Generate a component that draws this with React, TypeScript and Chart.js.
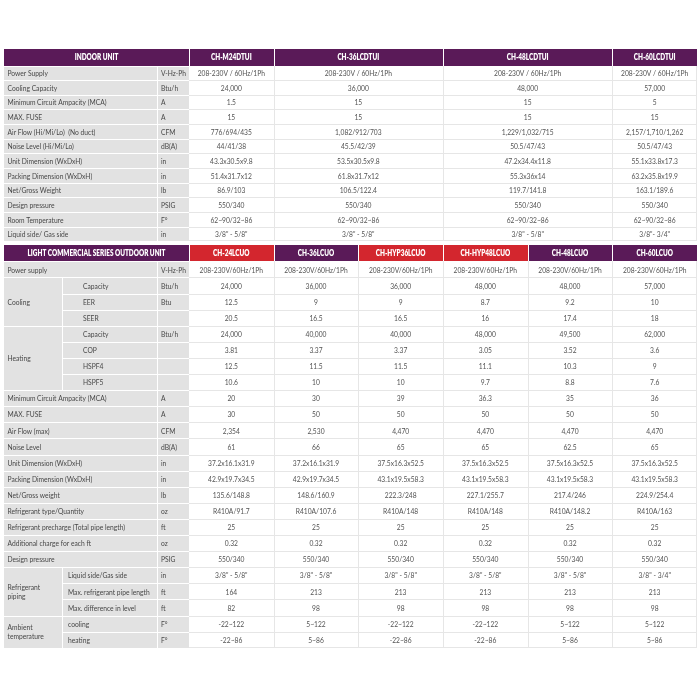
import React, { useEffect, useRef } from "react";
import { Chart, registerables } from "chart.js";
Chart.register(...registerables);

// ---------------- data ----------------
const indoorTitle = "INDOOR UNIT";
const indoorModels = ["CH-M24DTUI", "CH-36LCDTUI", "CH-48LCDTUI", "CH-60LCDTUI"];
const indoorLabels = [
  "Power Supply",
  "Cooling Capacity",
  "Minimum Circuit Ampacity (MCA)",
  "MAX. FUSE",
  "Air Flow (Hi/Mi/Lo)  (No duct)",
  "Noise Level (Hi/Mi/Lo)",
  "Unit Dimension (WxDxH)",
  "Packing Dimension (WxDxH)",
  "Net/Gross Weight",
  "Design pressure",
  "Room Temperature",
  "Liquid side/ Gas side",
];
const indoorUnits = ["V-Hz-Ph", "Btu/h", "A", "A", "CFM", "dB(A)", "in", "in", "lb", "PSIG", "F°", "in"];
const indoorM24 = ["208-230V / 60Hz/1Ph", "24,000", "1.5", "15", "776/694/435", "44/41/38", "43.3x30.5x9.8", "51.4x31.7x12", "86.9/103", "550/340", "62~90/32~86", "3/8\" - 5/8\""];
const indoor36 = ["208-230V / 60Hz/1Ph", "36,000", "15", "15", "1,082/912/703", "45.5/42/39", "53.5x30.5x9.8", "61.8x31.7x12", "106.5/122.4", "550/340", "62~90/32~86", "3/8\" - 5/8\""];
const indoor48 = ["208-230V / 60Hz/1Ph", "48,000", "15", "15", "1,229/1,032/715", "50.5/47/43", "47.2x34.4x11.8", "55.3x36x14", "119.7/141.8", "550/340", "62~90/32~86", "3/8\" - 5/8\""];
const indoor60 = ["208-230V / 60Hz/1Ph", "57,000", "5", "15", "2,157/1,710/1,262", "50.5/47/43", "55.1x33.8x17.3", "63.2x35.8x19.9", "163.1/189.6", "550/340", "62~90/32~86", "3/8\"- 3/4\""];

const outdoorTitle = "LIGHT COMMERCIAL SERIES OUTDOOR UNIT";
const outdoorModels = ["CH-24LCUO", "CH-36LCUO", "CH-HYP36LCUO", "CH-HYP48LCUO", "CH-48LCUO", "CH-60LCUO"];
const outdoorGroups = [
  "", "Cooling", "Cooling", "Cooling", "Heating", "Heating", "Heating", "Heating",
  "", "", "", "", "", "", "", "", "", "", "",
  "Refrigerant\npiping", "Refrigerant\npiping", "Refrigerant\npiping",
  "Ambient\ntemperature", "Ambient\ntemperature",
];
const outdoorLabels = [
  "Power supply", "Capacity", "EER", "SEER", "Capacity", "COP", "HSPF4", "HSPF5",
  "Minimum Circuit Ampacity (MCA)", "MAX. FUSE", "Air Flow (max)", "Noise Level",
  "Unit Dimension (WxDxH)", "Packing Dimension (WxDxH)", "Net/Gross weight",
  "Refrigerant type/Quantity", "Refrigerant precharge (Total pipe length)",
  "Additional charge for each ft", "Design pressure",
  "Liquid side/Gas side", "Max. refrigerant pipe length", "Max. difference in level",
  "cooling", "heating",
];
const outdoorUnits = [
  "V-Hz-Ph", "Btu/h", "Btu", "", "Btu/h", "", "", "",
  "A", "A", "CFM", "dB(A)", "in", "in", "lb", "oz", "ft", "oz", "PSIG",
  "in", "ft", "ft", "F°", "F°",
];
const outdoor24 = ["208-230V/60Hz/1Ph", "24,000", "12.5", "20.5", "24,000", "3.81", "12.5", "10.6", "20", "30", "2,354", "61", "37.2x16.1x31.9", "42.9x19.7x34.5", "135.6/148.8", "R410A/91.7", "25", "0.32", "550/340", "3/8\" - 5/8\"", "164", "82", "-22~122", "-22~86"];
const outdoor36 = ["208-230V/60Hz/1Ph", "36,000", "9", "16.5", "40,000", "3.37", "11.5", "10", "30", "50", "2,530", "66", "37.2x16.1x31.9", "42.9x19.7x34.5", "148.6/160.9", "R410A/107.6", "25", "0.32", "550/340", "3/8\" - 5/8\"", "213", "98", "5~122", "5~86"];
const outdoorHyp36 = ["208-230V/60Hz/1Ph", "36,000", "9", "16.5", "40,000", "3.37", "11.5", "10", "39", "50", "4,470", "65", "37.5x16.3x52.5", "43.1x19.5x58.3", "222.3/248", "R410A/148", "25", "0.32", "550/340", "3/8\" - 5/8\"", "213", "98", "-22~122", "-22~86"];
const outdoorHyp48 = ["208-230V/60Hz/1Ph", "48,000", "8.7", "16", "48,000", "3.05", "11.1", "9.7", "36.3", "50", "4,470", "65", "37.5x16.3x52.5", "43.1x19.5x58.3", "227.1/255.7", "R410A/148", "25", "0.32", "550/340", "3/8\" - 5/8\"", "213", "98", "-22~122", "-22~86"];
const outdoor48 = ["208-230V/60Hz/1Ph", "48,000", "9.2", "17.4", "49,500", "3.52", "10.3", "8.8", "35", "50", "4,470", "62.5", "37.5x16.3x52.5", "43.1x19.5x58.3", "217.4/246", "R410A/148.2", "25", "0.32", "550/340", "3/8\" - 5/8\"", "213", "98", "5~122", "5~86"];
const outdoor60 = ["208-230V/60Hz/1Ph", "57,000", "10", "18", "62,000", "3.6", "9", "7.6", "36", "50", "4,470", "65", "37.5x16.3x52.5", "43.1x19.5x58.3", "224.9/254.4", "R410A/163", "25", "0.32", "550/340", "3/8\" - 3/4\"", "213", "98", "5~122", "5~86"];

// ---------------- layout / style ----------------
const PURPLE = "#5a1a58";
const RED = "#d3262e";
const GRAY = "#e2e2e2";
const LINE = "#e6e6e6";
const LABEL_COLOR = "#474747";
const VALUE_COLOR = "#525252";
const FONT = "Lato, 'Open Sans', sans-serif";

const indoorSpans = [1, 2, 2, 1];
const outdoorHeaderColors = [RED, PURPLE, RED, RED, PURPLE, PURPLE];
const subLabelPad: Record<string, number> = { Cooling: 21, Heating: 21 };

// x in value-column units; value columns are [k, k+1]
const U_LEFT = -2.185;
const U_GROUP = -1.5;
const U_UNIT = -0.378;
const U_RIGHT = 6;
// y in table units
const V_TOP_HEAD = 16.5;
const V_TOP_ROW = 14.65;
const V_GAP = 3.5;
const V_BOT_HEAD = 16.5;
const V_BOT_ROW = 16.1;

const indoorValues = [indoorM24, indoor36, indoor48, indoor60];
const outdoorValues = [outdoor24, outdoor36, outdoorHyp36, outdoorHyp48, outdoor48, outdoor60];

const topRowsStart = V_TOP_HEAD;
const topEnd = topRowsStart + indoorLabels.length * V_TOP_ROW;
const botHeadStart = topEnd + V_GAP;
const botRowsStart = botHeadStart + V_BOT_HEAD;
const TOTAL = botRowsStart + outdoorLabels.length * V_BOT_ROW;

const tablePlugin = {
  id: "specTable",
  afterDraw(chart: any) {
    const ctx: CanvasRenderingContext2D = chart.ctx;
    const xs = chart.scales.x;
    const ys = chart.scales.y;
    const X = (u: number) => Math.round(xs.getPixelForValue(u));
    const Y = (v: number) => Math.round(ys.getPixelForValue(v));
    const fill = (u0: number, v0: number, u1: number, v1: number, c: string) => {
      ctx.fillStyle = c;
      ctx.fillRect(X(u0), Y(v0), X(u1) - X(u0), Y(v1) - Y(v0));
    };
    const hline = (u0: number, u1: number, v: number, c: string, off = 0) => {
      ctx.fillStyle = c;
      ctx.fillRect(X(u0), Y(v) + off, X(u1) - X(u0), 1);
    };
    const vline = (u: number, v0: number, v1: number, c: string, off = 0) => {
      ctx.fillStyle = c;
      ctx.fillRect(X(u) + off, Y(v0), 1, Y(v1) - Y(v0));
    };

    const bodyFont = `8.3px ${FONT}`;
    const headFont = `800 8.3px ${FONT}`;
    ctx.font = bodyFont;
    const sxBody = 99 / ctx.measureText("Minimum Circuit Ampacity (MCA)").width;
    ctx.font = headFont;
    const sxHead = 138 / ctx.measureText(outdoorTitle).width;

    const text = (s: string, x: number, y: number, align: CanvasTextAlign, bold: boolean, color: string) => {
      const lines = s.split("\n");
      ctx.save();
      ctx.font = bold ? headFont : bodyFont;
      ctx.fillStyle = color;
      ctx.textAlign = align;
      ctx.textBaseline = "middle";
      const lh = 9;
      lines.forEach((ln, i) => {
        const yy = y + (i - (lines.length - 1) / 2) * lh;
        ctx.save();
        ctx.translate(x, yy);
        ctx.scale(bold ? sxHead : sxBody, 1);
        ctx.fillText(ln, 0, 0);
        ctx.restore();
      });
      ctx.restore();
    };
    const midY = (v0: number, v1: number) => (ys.getPixelForValue(v0) + ys.getPixelForValue(v1)) / 2 + 0.5;
    const midX = (u0: number, u1: number) => (xs.getPixelForValue(u0) + xs.getPixelForValue(u1)) / 2;

    // ===== Indoor header =====
    fill(U_LEFT, 0, 0, V_TOP_HEAD, PURPLE);
    text(indoorTitle, midX(U_LEFT, 0), midY(0, V_TOP_HEAD), "center", true, "#ffffff");
    let c = 0;
    indoorModels.forEach((m, i) => {
      const span = indoorSpans[i];
      fill(c, 0, c + span, V_TOP_HEAD, PURPLE);
      vline(c, 0, V_TOP_HEAD, "#ffffff");
      text(m, midX(c, c + span), midY(0, V_TOP_HEAD), "center", true, "#ffffff");
      c += span;
    });

    // ===== Indoor rows =====
    fill(U_LEFT, topRowsStart, 0, topEnd, GRAY);
    fill(0, topRowsStart, U_RIGHT, topEnd, "#ffffff");
    indoorLabels.forEach((lab, r) => {
      const v0 = topRowsStart + r * V_TOP_ROW;
      const v1 = v0 + V_TOP_ROW;
      hline(U_LEFT, 0, v0, "#ffffff");
      if (r > 0) hline(0, U_RIGHT, v0, LINE);
      const my = midY(v0, v1);
      text(lab, X(U_LEFT) + 3.5, my, "left", false, LABEL_COLOR);
      text(indoorUnits[r], X(U_UNIT) + 4, my, "left", false, LABEL_COLOR);
      let cc = 0;
      indoorValues.forEach((vals, i) => {
        const span = indoorSpans[i];
        text(vals[r], midX(cc, cc + span), my, "center", false, VALUE_COLOR);
        cc += span;
      });
    });
    vline(U_UNIT, topRowsStart, topEnd, "#ffffff");
    hline(0, U_RIGHT, topEnd, LINE, -1);
    let cb = 0;
    indoorSpans.forEach((s) => {
      cb += s;
      vline(cb, topRowsStart, topEnd, LINE, cb === U_RIGHT ? -1 : 0);
    });

    // ===== Outdoor header =====
    fill(U_LEFT, botHeadStart, 0, botRowsStart, PURPLE);
    text(outdoorTitle, midX(U_LEFT, 0), midY(botHeadStart, botRowsStart), "center", true, "#ffffff");
    outdoorModels.forEach((m, i) => {
      fill(i, botHeadStart, i + 1, botRowsStart, outdoorHeaderColors[i]);
      vline(i, botHeadStart, botRowsStart, "#ffffff");
      text(m, midX(i, i + 1), midY(botHeadStart, botRowsStart), "center", true, "#ffffff");
    });

    // ===== Outdoor rows =====
    const botEnd = TOTAL;
    fill(U_LEFT, botRowsStart, 0, botEnd, GRAY);
    fill(0, botRowsStart, U_RIGHT, botEnd, "#ffffff");
    outdoorLabels.forEach((lab, r) => {
      const v0 = botRowsStart + r * V_BOT_ROW;
      const v1 = v0 + V_BOT_ROW;
      const g = outdoorGroups[r];
      const prevG = r > 0 ? outdoorGroups[r - 1] : "";
      const sameGroup = g !== "" && g === prevG;
      hline(sameGroup ? U_GROUP : U_LEFT, 0, v0, "#ffffff");
      if (r > 0) hline(0, U_RIGHT, v0, LINE);
      const my = midY(v0, v1);
      if (g === "") {
        text(lab, X(U_LEFT) + 3.5, my, "left", false, LABEL_COLOR);
      } else {
        vline(U_GROUP, v0, v1, "#ffffff");
        const pad = subLabelPad[g] ?? 6;
        text(lab, X(U_GROUP) + pad, my, "left", false, LABEL_COLOR);
        if (!sameGroup) {
          let n = 0;
          while (outdoorGroups[r + n] === g) n++;
          text(g, X(U_LEFT) + 3.5, midY(v0, v0 + n * V_BOT_ROW), "left", false, LABEL_COLOR);
        }
      }
      text(outdoorUnits[r], X(U_UNIT) + 4, my, "left", false, LABEL_COLOR);
      outdoorValues.forEach((vals, i) => {
        text(vals[r], midX(i, i + 1), my, "center", false, VALUE_COLOR);
      });
    });
    vline(U_UNIT, botRowsStart, botEnd, "#ffffff");
    hline(0, U_RIGHT, botEnd, LINE, -1);
    for (let i = 1; i <= outdoorModels.length; i++) {
      vline(i, botRowsStart, botEnd, LINE, i === U_RIGHT ? -1 : 0);
    }
  },
};

export default function App() {
  const ref = useRef<HTMLCanvasElement | null>(null);
  useEffect(() => {
    if (!ref.current) return;
    const chart = new Chart(ref.current, {
      type: "scatter",
      data: { datasets: [] },
      options: {
        animation: false,
        responsive: false,
        devicePixelRatio: 1,
        layout: { padding: { left: 4, right: 3, top: 49, bottom: 700 - 49 - TOTAL } },
        plugins: { legend: { display: false }, tooltip: { enabled: false } },
        scales: {
          x: { type: "linear", min: U_LEFT, max: U_RIGHT, display: false },
          y: { type: "linear", min: 0, max: TOTAL, reverse: true, display: false },
        },
      },
      plugins: [tablePlugin],
    });
    return () => chart.destroy();
  }, []);
  return (
    <div style={{ position: "fixed", left: 0, top: 0, width: 700, height: 700, background: "#ffffff" }}>
      <canvas ref={ref} width={700} height={700} style={{ width: 700, height: 700, display: "block" }} />
    </div>
  );
}
